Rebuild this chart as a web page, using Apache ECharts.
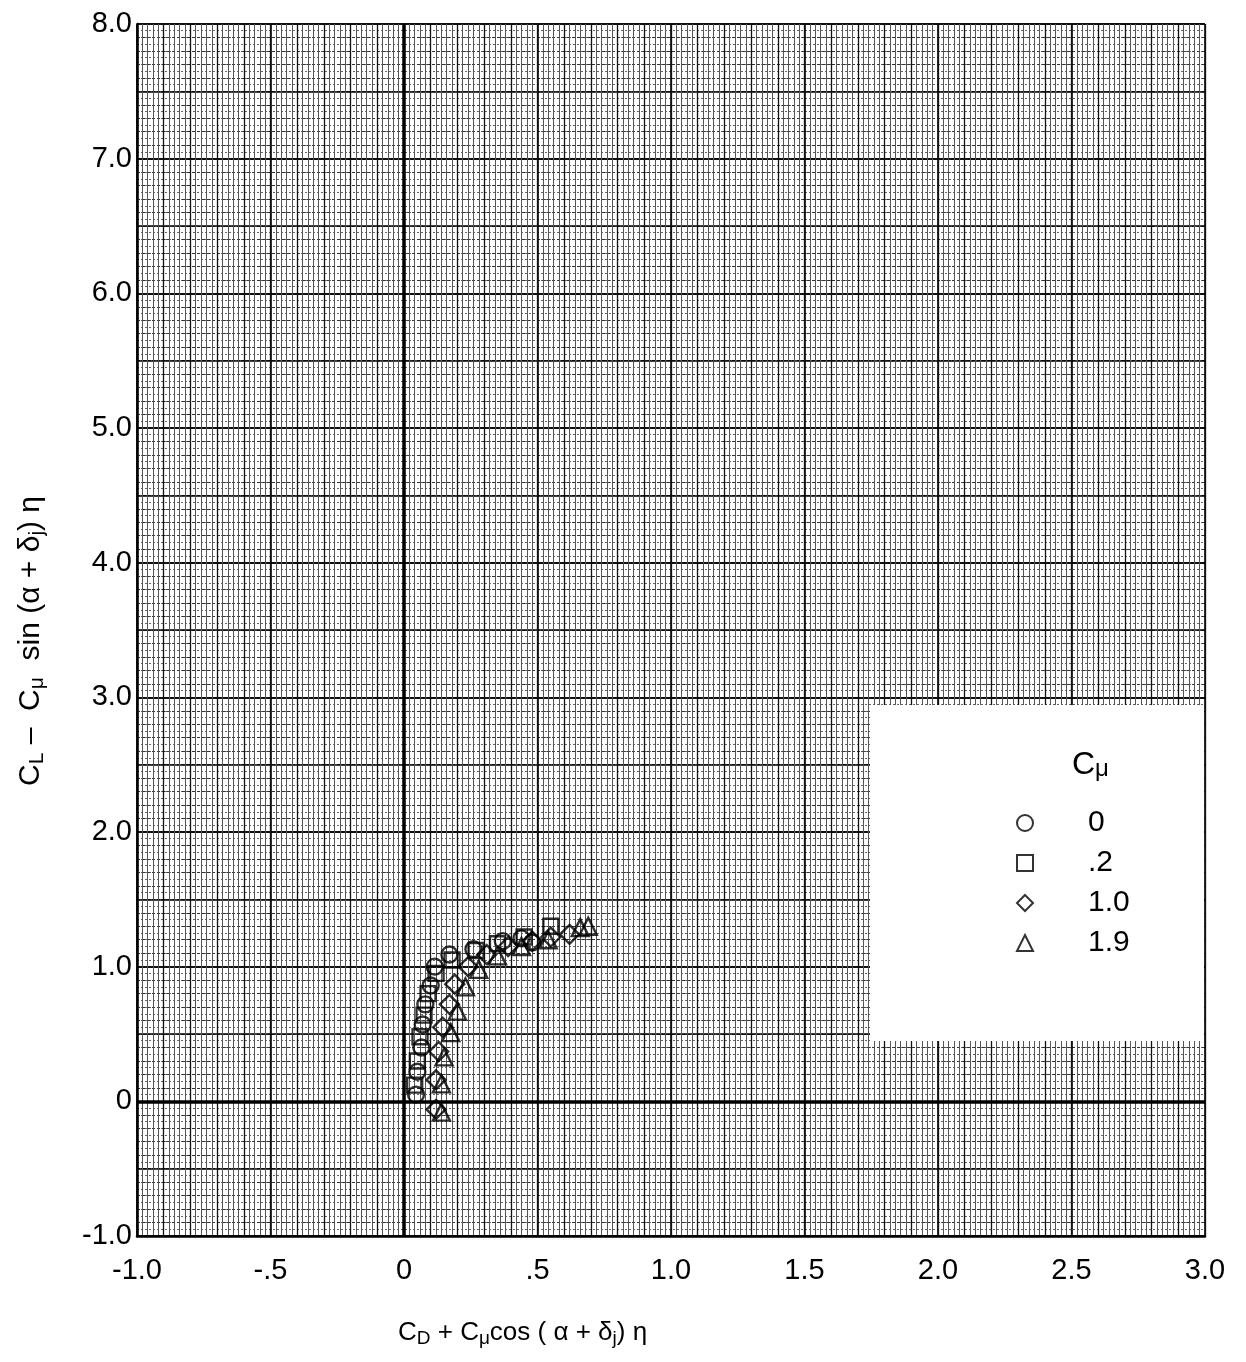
<!DOCTYPE html>
<html>
<head>
<meta charset="utf-8">
<script src="https://cdn.jsdelivr.net/npm/echarts@6/dist/echarts.min.js"></script>
<style>
html,body{margin:0;padding:0;background:#fff;}
#chart{width:1246px;height:1362px;}
</style>
</head>
<body>
<div id="chart"></div>
<script>
// ---- data ----
const seriesNames = ['0', '.2', '1.0', '1.9'];
const cmu0_x = [0.045, 0.05, 0.065, 0.07, 0.08, 0.10, 0.115, 0.17, 0.26, 0.37, 0.44, 0.48];
const cmu0_y = [0.05, 0.22, 0.40, 0.57, 0.72, 0.86, 1.00, 1.09, 1.13, 1.19, 1.21, 1.18];
const cmu02_x = [0.04, 0.05, 0.06, 0.075, 0.09, 0.12, 0.18, 0.27, 0.35, 0.45, 0.55];
const cmu02_y = [0.12, 0.30, 0.48, 0.64, 0.80, 0.95, 1.05, 1.12, 1.17, 1.22, 1.30];
const cmu10_x = [0.12, 0.12, 0.13, 0.145, 0.17, 0.19, 0.24, 0.31, 0.39, 0.48, 0.55, 0.62];
const cmu10_y = [-0.06, 0.16, 0.37, 0.55, 0.72, 0.87, 1.00, 1.09, 1.15, 1.19, 1.22, 1.24];
const cmu19_x = [0.14, 0.14, 0.15, 0.175, 0.20, 0.23, 0.28, 0.35, 0.44, 0.54, 0.66, 0.69];
const cmu19_y = [-0.08, 0.13, 0.33, 0.51, 0.67, 0.85, 0.98, 1.08, 1.15, 1.20, 1.29, 1.30];

const xTickValues = [-1, -0.5, 0, 0.5, 1, 1.5, 2, 2.5, 3];
const xTickLabels = ['-1.0', '-.5', '0', '.5', '1.0', '1.5', '2.0', '2.5', '3.0'];
const yTickValues = [-1, 0, 1, 2, 3, 4, 5, 6, 7, 8];
const yTickLabels = ['-1.0', '0', '1.0', '2.0', '3.0', '4.0', '5.0', '6.0', '7.0', '8.0'];

function pair(xs, ys) { return xs.map((x, i) => [x, ys[i]]); }
function lab(values, labels) {
  return function (v) {
    for (let i = 0; i < values.length; i++) if (Math.abs(values[i] - v) < 1e-6) return labels[i];
    return '';
  };
}

const FONT = 'Liberation Sans';
const chart = echarts.init(document.getElementById('chart'), null, { renderer: 'canvas' });

function gridAxis(interval, color, width, type) {
  return {
    type: 'value', min: 0, max: 0, interval: interval,
    axisLine: { show: false }, axisTick: { show: false }, axisLabel: { show: false },
    splitLine: { show: true, lineStyle: { color: color, width: width, type: type || 'solid' } }
  };
}
function xg(interval, color, width, type) {
  const a = gridAxis(interval, color, width, type); a.min = -1; a.max = 3; a.gridIndex = 0; return a;
}
function yg(interval, color, width, type) {
  const a = gridAxis(interval, color, width, type); a.min = -1; a.max = 8; a.gridIndex = 0; return a;
}

const markerStyle = { color: 'rgba(255,255,255,0)', borderColor: '#000', borderWidth: 2.4 };

const option = {
  backgroundColor: '#fff',
  animation: false,
  grid: { left: 137, right: 41, top: 24, bottom: 126, containLabel: false },
  xAxis: [
    {
      type: 'value', min: -1, max: 3, interval: 0.5,
      axisLine: { show: true, onZero: false, lineStyle: { color: '#000', width: 2.5 } },
      axisTick: { show: false },
      axisLabel: { formatter: lab(xTickValues, xTickLabels), fontFamily: FONT, fontSize: 29, color: '#000', margin: 20 },
      splitLine: { show: true, lineStyle: { color: '#000', width: 1.6 } }
    },
    xg(0.02, '#555', 1),
    xg(0.1, '#111', 1.3)
  ],
  yAxis: [
    {
      type: 'value', min: -1, max: 8, interval: 1,
      axisLine: { show: true, onZero: false, lineStyle: { color: '#000', width: 2.5 } },
      axisTick: { show: false },
      axisLabel: { formatter: lab(yTickValues, yTickLabels), fontFamily: FONT, fontSize: 29, color: '#000', margin: 5 },
      splitLine: { show: true, lineStyle: { color: '#000', width: 1.6 } }
    },
    yg(0.05, '#666', 1, [2, 2]),
    yg(0.1, '#333', 1, [3, 2]),
    yg(0.5, '#000', 1.6)
  ],
  legend: {
    orient: 'vertical',
    left: 1011, top: 803,
    itemWidth: 16, itemHeight: 16, itemGap: 10,
    data: seriesNames,
    textStyle: { fontFamily: FONT, fontSize: 30, color: '#000', padding: [0, 0, 0, 50] },
    z: 10
  },
  graphic: [
    { type: 'rect', shape: { x: 870, y: 705, width: 334, height: 336 }, style: { fill: '#fff' }, z: 3, silent: true },
    { type: 'text', left: 1072, top: 749, z: 10,
      style: { text: '{b|C}{s|μ}', rich: {
        b: { fontFamily: FONT, fontSize: 32, fill: '#000' },
        s: { fontFamily: FONT, fontSize: 24, fill: '#000', padding: [8, 0, 0, 0] } } } },
    { type: 'text', left: 398, top: 1320, z: 10,
      style: { text: '{b|C}{s|D}{b| + C}{s|μ}{b|cos ( α + δ}{s|j}{b|) η}', rich: {
        b: { fontFamily: FONT, fontSize: 26, fill: '#000' },
        s: { fontFamily: FONT, fontSize: 19, fill: '#000', padding: [12, 0, 0, 0] } } } },
    { type: 'text', x: 14, y: 786, rotation: Math.PI / 2, z: 10,
      style: { text: '{b|C}{s|L}{b| –  C}{s|μ}{b|  sin (α + δ}{s|j}{b|) η}', rich: {
        b: { fontFamily: FONT, fontSize: 30, fill: '#000' },
        s: { fontFamily: FONT, fontSize: 21, fill: '#000', padding: [13, 0, 0, 0] } } } }
  ],
  series: [
    {
      name: seriesNames[0], type: 'scatter', symbol: 'circle', symbolSize: 16,
      itemStyle: markerStyle, data: pair(cmu0_x, cmu0_y), z: 5,
      markLine: {
        silent: true, symbol: 'none', label: { show: false },
        lineStyle: { color: '#000', width: 3.5, type: 'solid' },
        data: [{ xAxis: 0 }, { yAxis: 0 }]
      }
    },
    { name: seriesNames[1], type: 'scatter', symbol: 'rect', symbolSize: 15, itemStyle: markerStyle, data: pair(cmu02_x, cmu02_y), z: 5 },
    { name: seriesNames[2], type: 'scatter', symbol: 'diamond', symbolSize: 19, itemStyle: markerStyle, data: pair(cmu10_x, cmu10_y), z: 5 },
    { name: seriesNames[3], type: 'scatter', symbol: 'triangle', symbolSize: 17, itemStyle: markerStyle, data: pair(cmu19_x, cmu19_y), z: 5 }
  ]
};
chart.setOption(option);
</script>
</body>
</html>
